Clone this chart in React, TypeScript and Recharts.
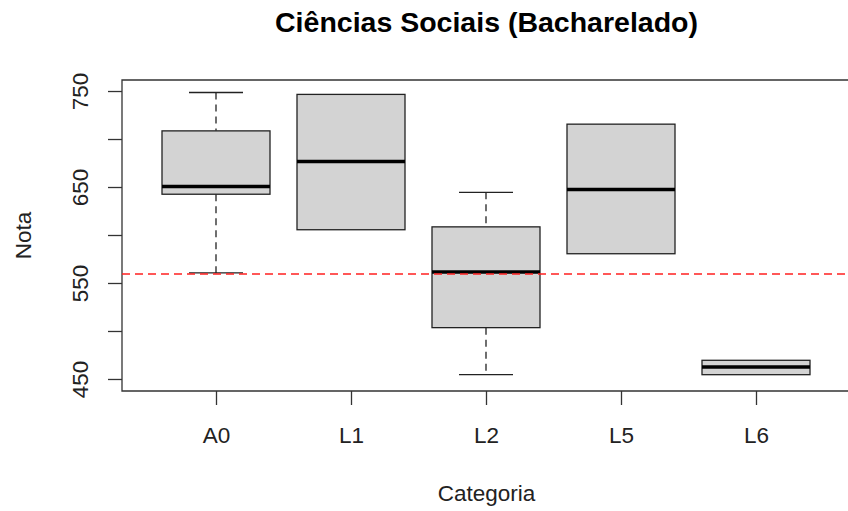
import { ComposedChart, Bar, XAxis, YAxis, ReferenceLine, ReferenceArea } from "recharts";

const categories = ["A0", "L1", "L2", "L5", "L6"];
const lowerWhisker = [561, 606, 455, 581, 455];
const firstQuartile = [643, 606, 504, 581, 455];
const medians = [651, 677, 562, 648, 463];
const thirdQuartile = [709, 747, 609, 716, 470];
const upperWhisker = [749, 747, 645, 716, 470];
const yTicks = [450, 500, 550, 600, 650, 700, 750];
const yLabelled = [450, 550, 650, 750];
const cutoff = 560;

const FONT = "'Liberation Sans', Arial, Helvetica, sans-serif";
const INK = "#222";

// groups sit at 1..n on a numeric axis, like base R boxplot
const rows = categories.map((name, i) => ({
  pos: i + 1,
  name,
  min: lowerWhisker[i],
  q1: firstQuartile[i],
  median: medians[i],
  q3: thirdQuartile[i],
  max: upperWhisker[i],
}));
const positions = rows.map((r) => r.pos);

// the bar spans min..max, the rest of the box is placed inside it on the same linear scale
function BoxShape(props: any) {
  const { x, y, width, height, payload } = props;
  const top = Math.min(y, y + height);
  const h = Math.abs(height);
  const span = payload.max - payload.min;
  const yOf = (v: number) => top + (span ? (payload.max - v) / span : 0) * h;
  const cx = x + width / 2;
  const cap = width / 4;
  const yMax = yOf(payload.max);
  const yQ3 = yOf(payload.q3);
  const yMed = yOf(payload.median);
  const yQ1 = yOf(payload.q1);
  const yMin = yOf(payload.min);
  return (
    <g>
      {payload.max > payload.q3 && (
        <g stroke={INK} strokeWidth={1.3}>
          <line x1={cx} x2={cx} y1={yMax} y2={yQ3} strokeDasharray="7 5" />
          <line x1={cx - cap} x2={cx + cap} y1={yMax} y2={yMax} />
        </g>
      )}
      {payload.min < payload.q1 && (
        <g stroke={INK} strokeWidth={1.3}>
          <line x1={cx} x2={cx} y1={yQ1} y2={yMin} strokeDasharray="7 5" />
          <line x1={cx - cap} x2={cx + cap} y1={yMin} y2={yMin} />
        </g>
      )}
      <rect x={x} y={yQ3} width={width} height={yQ1 - yQ3} fill="#d3d3d3" stroke={INK} strokeWidth={1.3} />
      <line x1={x} x2={x + width} y1={yMed} y2={yMed} stroke="#000" strokeWidth={3.5} />
    </g>
  );
}

function YTick(props: any) {
  const { x, y, payload } = props;
  if (!yLabelled.includes(payload.value)) return null;
  return (
    <text x={x} y={y} transform={`rotate(-90, ${x}, ${y})`} textAnchor="middle" fontSize={22.5} fontFamily={FONT} fill={INK}>
      {payload.value}
    </text>
  );
}

export default function App() {
  return (
    <div style={{ position: "absolute", left: 0, top: 0, width: 848, height: 511, overflow: "hidden", background: "#fff" }}>
      <div
        style={{
          position: "absolute",
          left: 0,
          top: 8,
          width: 973,
          textAlign: "center",
          fontFamily: FONT,
          fontWeight: "bold",
          fontSize: 28.5,
          lineHeight: "28px",
          color: "#000",
        }}
      >
        Ciências Sociais (Bacharelado)
      </div>
      <ComposedChart width={860} height={511} data={rows} margin={{ top: 80, right: 9, bottom: 0, left: 0 }}>
        <ReferenceArea x1={0.3} x2={5.7} y1={438} y2={762} fill="none" stroke="#333" strokeWidth={1.3} ifOverflow="visible" />
        <XAxis
          dataKey="pos"
          type="number"
          domain={[0.3, 5.7]}
          allowDataOverflow
          ticks={positions}
          tickFormatter={(v: number) => categories[v - 1]}
          height={120}
          axisLine={false}
          tickSize={14}
          tickMargin={22}
          tickLine={{ stroke: "#333", strokeWidth: 1.3 }}
          tick={{ fontSize: 22.5, fontFamily: FONT, fill: INK }}
          label={(p: any) => {
            const vb = p.viewBox;
            return (
              <text x={vb.x + vb.width / 2} y={501} textAnchor="middle" fontSize={22.5} fontFamily={FONT} fill={INK}>
                Categoria
              </text>
            );
          }}
        />
        <YAxis
          width={122}
          domain={[438, 762]}
          allowDataOverflow
          ticks={yTicks}
          axisLine={false}
          tickSize={14}
          tickMargin={20}
          tickLine={{ stroke: "#333", strokeWidth: 1.3 }}
          tick={<YTick />}
          label={(p: any) => {
            const vb = p.viewBox;
            const cy = vb.y + vb.height / 2;
            return (
              <text x={31} y={cy} transform={`rotate(-90, 31, ${cy})`} textAnchor="middle" fontSize={22.5} fontFamily={FONT} fill={INK}>
                Nota
              </text>
            );
          }}
        />
        <Bar dataKey={(d: any) => [d.min, d.max]} barSize={108} shape={<BoxShape />} isAnimationActive={false} />
        <ReferenceLine y={cutoff} stroke="#ff2020" strokeWidth={1.5} strokeDasharray="8 5" />
      </ComposedChart>
    </div>
  );
}
